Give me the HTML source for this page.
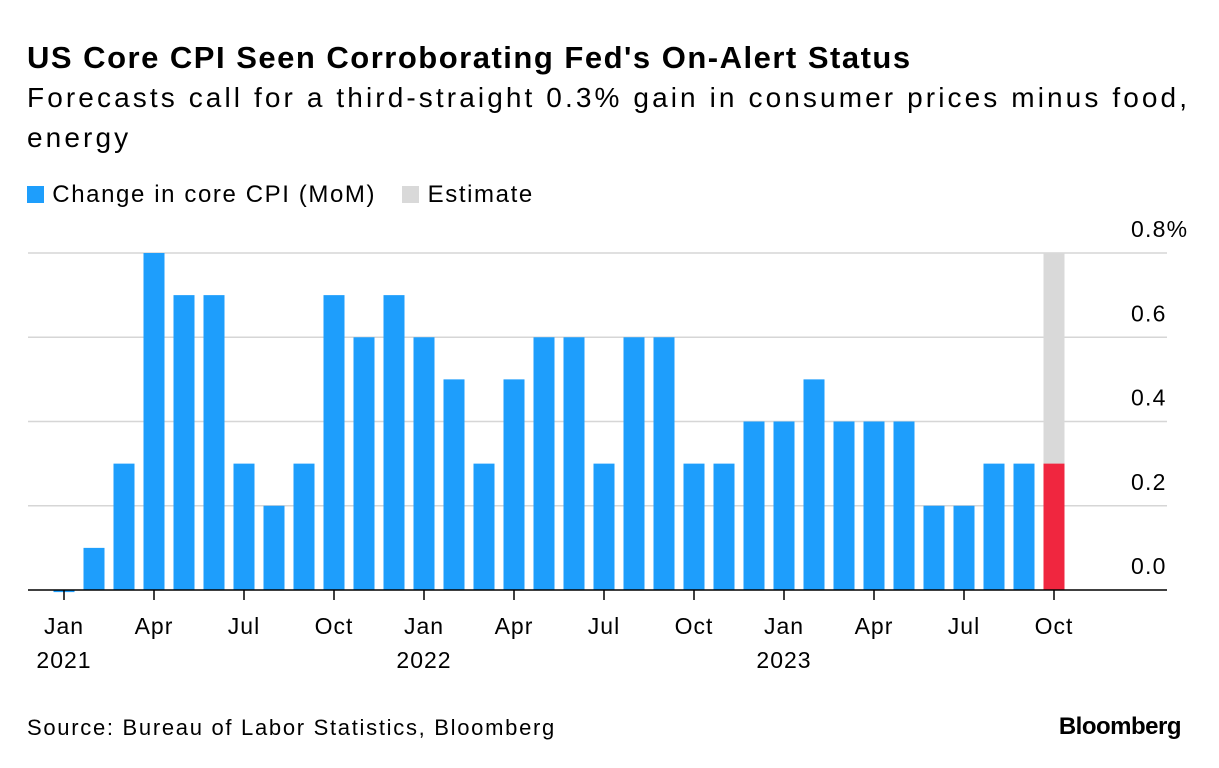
<!DOCTYPE html>
<html><head><meta charset="utf-8"><style>
body{margin:0;width:1219px;height:768px;background:#fff;font-family:"Liberation Sans",sans-serif;overflow:hidden;position:relative}
.t{position:absolute;white-space:nowrap;color:#000}
</style></head><body>
<div class="t" style="left:27px;top:40px;font-size:31px;font-weight:bold;letter-spacing:1.5px">US Core CPI Seen Corroborating Fed's On-Alert Status</div>
<div class="t" style="left:27px;top:78px;font-size:28px;line-height:40px;white-space:normal;width:1185px;letter-spacing:3.1px">Forecasts call for a third-straight 0.3% gain in consumer prices minus food, energy</div>
<div style="position:absolute;left:27px;top:181px;font-size:24px;letter-spacing:1.6px">
<span style="display:inline-block;width:17px;height:17px;background:#1e9efc;vertical-align:-1px"></span> Change in core CPI (MoM)
<span style="display:inline-block;width:17px;height:17px;background:#d9d9d9;margin-left:18px;vertical-align:-1px"></span> Estimate</div>
<svg id="c" width="1219" height="768" style="position:absolute;left:0;top:0"></svg>
<div class="t" style="left:27px;top:715px;font-size:22px;letter-spacing:1.7px">Source: Bureau of Labor Statistics, Bloomberg</div>
<div class="t" style="right:38px;top:713px;font-size:24px;font-weight:bold;letter-spacing:-0.5px">Bloomberg</div>
<script>
const values=[-0.005,0.1,0.3,0.8,0.7,0.7,0.3,0.2,0.3,0.7,0.6,0.7,0.6,0.5,0.3,0.5,0.6,0.6,0.3,0.6,0.6,0.3,0.3,0.4,0.4,0.5,0.4,0.4,0.4,0.2,0.2,0.3,0.3,0.3];
const estimateIndex=33;
const estimateMax=0.8;
const yTicks=[0,0.2,0.4,0.6,0.8];
const yTickLabels=["0.0","0.2","0.4","0.6","0.8%"];
const xLabels=[[0,"Jan","2021"],[3,"Apr",""],[6,"Jul",""],[9,"Oct",""],[12,"Jan","2022"],[15,"Apr",""],[18,"Jul",""],[21,"Oct",""],[24,"Jan","2023"],[27,"Apr",""],[30,"Jul",""],[33,"Oct",""]];
const svg=document.getElementById('c');const NS='http://www.w3.org/2000/svg';
const x=i=>64+i*30.0;const y=v=>590-v*421.25;const bw=21;
function mk(t,a){const e=document.createElementNS(NS,t);for(const k in a)e.setAttribute(k,a[k]);svg.appendChild(e);return e;}
yTicks.forEach((v,i)=>{if(v>0){const g=mk('line',{x1:28,x2:1167,y1:y(v),y2:y(v),stroke:'#d6d6d6','stroke-width':1.5});

}
const t=mk('text',{x:1131,y:y(v)-16,'font-size':23,'letter-spacing':1.2,'font-family':'Liberation Sans, sans-serif',fill:'#000'});t.textContent=yTickLabels[i];

});
const est=mk('rect',{x:x(estimateIndex)-bw/2,y:y(estimateMax),width:bw,height:y(0)-y(estimateMax),fill:'#d9d9d9'});


values.forEach((v,i)=>{const top=Math.min(y(v),y(0)),h=Math.max(Math.abs(y(v)-y(0)),1.5);
const r=mk('rect',{x:x(i)-bw/2,y:top,width:bw,height:h,fill:i===estimateIndex?'#f0263f':'#1e9efc'});

});
const ax=mk('line',{x1:28,x2:1167,y1:590,y2:590,stroke:'#000','stroke-width':1.5});


xLabels.forEach(([i,m,yr])=>{const tk=mk('line',{x1:x(i),x2:x(i),y1:590,y2:600,stroke:'#000','stroke-width':1.5});


const t=mk('text',{x:x(i),y:634,'text-anchor':'middle','font-size':23,'letter-spacing':1,'font-family':'Liberation Sans, sans-serif'});t.textContent=m;


if(yr){const t2=mk('text',{x:x(i),y:668,'text-anchor':'middle','font-size':23,'letter-spacing':1,'font-family':'Liberation Sans, sans-serif'});t2.textContent=yr;

}});
</script>
</body></html>
